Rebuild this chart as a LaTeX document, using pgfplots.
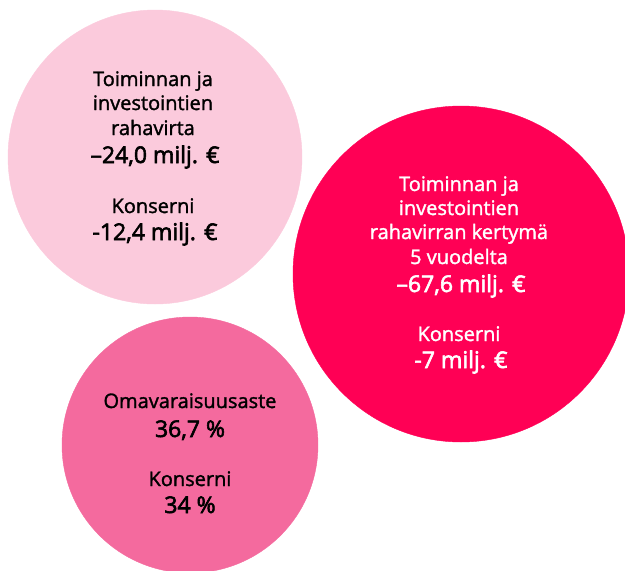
\documentclass[border=0pt]{standalone}
\usepackage{pgfplots}
\pgfplotsset{compat=1.18}
\usepackage{fontspec}
\setmainfont{Open Sans}
\newfontfamily\tfont[FakeBold=1.6]{Open Sans}
\newfontfamily\vfont[FakeBold=2.6]{Open Sans}
\definecolor{cA}{HTML}{FBCADC}
\definecolor{cB}{HTML}{FF0055}
\definecolor{cC}{HTML}{F46A9E}
\begin{document}
\begin{tikzpicture}
\begin{axis}[width=625pt,height=571pt,scale only axis,
  xmin=0,xmax=625,ymin=0,ymax=571,y dir=reverse,
  hide axis,clip=true,clip mode=global,clip marker paths=true]
\addplot[only marks,mark=*,mark size=147pt,color=cA,mark options={fill=cA,draw=cA}] coordinates {(155,157)};
\addplot[only marks,mark=*,mark size=168pt,color=cB,mark options={fill=cB,draw=cB}] coordinates {(461,274)};
\addplot[only marks,mark=*,mark size=128pt,color=cC,mark options={fill=cC,draw=cC}] coordinates {(190,445)};
\tikzset{tt/.style={anchor=base,font=\tfont\fontsize{20}{24}\selectfont},
         vv/.style={anchor=base,font=\vfont\fontsize{23}{27}\selectfont}}
% circle 1
\node[tt] at (axis cs:153,86) {Toiminnan ja};
\node[tt] at (axis cs:153,110) {investointien};
\node[tt] at (axis cs:153,135) {rahavirta};
\node[vv] at (axis cs:155,163) {–24,0 milj. €};
\node[tt] at (axis cs:153,213) {Konserni};
\node[vv] at (axis cs:155,240) {-12,4 milj. €};
% circle 2
\node[tt,text=white] at (axis cs:459,191) {Toiminnan ja};
\node[tt,text=white] at (axis cs:459,215) {investointien};
\node[tt,text=white] at (axis cs:459,239) {rahavirran kertymä};
\node[tt,text=white] at (axis cs:459,264) {5 vuodelta};
\node[vv,text=white] at (axis cs:461,292) {–67,6 milj. €};
\node[tt,text=white] at (axis cs:459,341) {Konserni};
\node[vv,text=white] at (axis cs:461,368) {-7 milj. €};
% circle 3
\node[tt] at (axis cs:190,408) {Omavaraisuusaste};
\node[vv] at (axis cs:190,437) {36,7 \%};
\node[tt] at (axis cs:190,486) {Konserni};
\node[vv] at (axis cs:190,513) {34 \%};
\end{axis}
\pgfresetboundingbox
\path[use as bounding box] (current axis.south west) rectangle (current axis.north east);
\end{tikzpicture}
\end{document}
